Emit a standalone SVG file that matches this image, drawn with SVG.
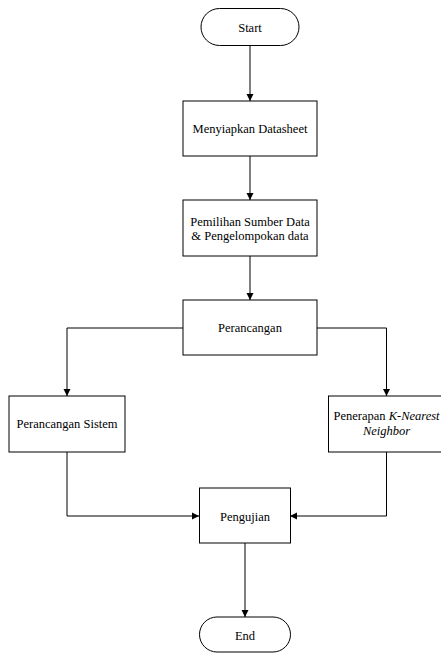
<svg xmlns="http://www.w3.org/2000/svg" width="441" height="653" viewBox="0 0 441 653">
<style>
.box{fill:#fff;stroke:#000;stroke-width:1}
.t{font-family:"Liberation Serif","Times New Roman",serif;font-size:12.5px;fill:#000;text-anchor:middle}
.c{fill:none;stroke:#000;stroke-width:1}
</style>
<defs>
<marker id="ah" markerWidth="7" markerHeight="8" refX="7" refY="4" orient="auto" markerUnits="userSpaceOnUse">
<path d="M0,0.5 L7,4 L0,7.5 Z" fill="#000"/>
</marker>
</defs>
<rect width="441" height="653" fill="#fff"/>
<g id="connectors">
<path class="c" d="M250,46 V101" marker-end="url(#ah)"/>
<path class="c" d="M250,156 V200" marker-end="url(#ah)"/>
<path class="c" d="M250,256 V300" marker-end="url(#ah)"/>
<path class="c" d="M183,328 H67 V396" marker-end="url(#ah)"/>
<path class="c" d="M317,328 H386.5 V396" marker-end="url(#ah)"/>
<path class="c" d="M67,452 V516 H199" marker-end="url(#ah)"/>
<path class="c" d="M386.5,452 V516 H290" marker-end="url(#ah)"/>
<path class="c" d="M245,543 V617" marker-end="url(#ah)"/>
</g>
<g id="start">
<rect class="box" x="201" y="8.5" width="98" height="37" rx="18.5"/>
<text class="t" x="250" y="31.5">Start</text>
</g>
<g id="menyiapkan">
<rect class="box" x="183" y="101" width="134" height="55"/>
<text class="t" x="250" y="133">Menyiapkan Datasheet</text>
</g>
<g id="pemilihan">
<rect class="box" x="183" y="200" width="134" height="56"/>
<text class="t" x="250" y="226">Pemilihan Sumber Data</text>
<text class="t" x="250" y="240">&amp; Pengelompokan data</text>
</g>
<g id="perancangan">
<rect class="box" x="183" y="300" width="134" height="55"/>
<text class="t" x="250" y="332">Perancangan</text>
</g>
<g id="perancangan-sistem">
<rect class="box" x="9" y="396" width="116" height="56"/>
<text class="t" x="67" y="428">Perancangan Sistem</text>
</g>
<g id="penerapan">
<rect class="box" x="328.5" y="396" width="116" height="56"/>
<text class="t" x="386.5" y="419.5">Penerapan <tspan font-style="italic">K-Nearest</tspan></text>
<text class="t" x="386.5" y="435" font-style="italic">Neighbor</text>
</g>
<g id="pengujian">
<rect class="box" x="199.5" y="488" width="91" height="55"/>
<text class="t" x="245" y="521">Pengujian</text>
</g>
<g id="end">
<rect class="box" x="199.5" y="617" width="91" height="35" rx="17.5"/>
<text class="t" x="245" y="640">End</text>
</g>
</svg>
